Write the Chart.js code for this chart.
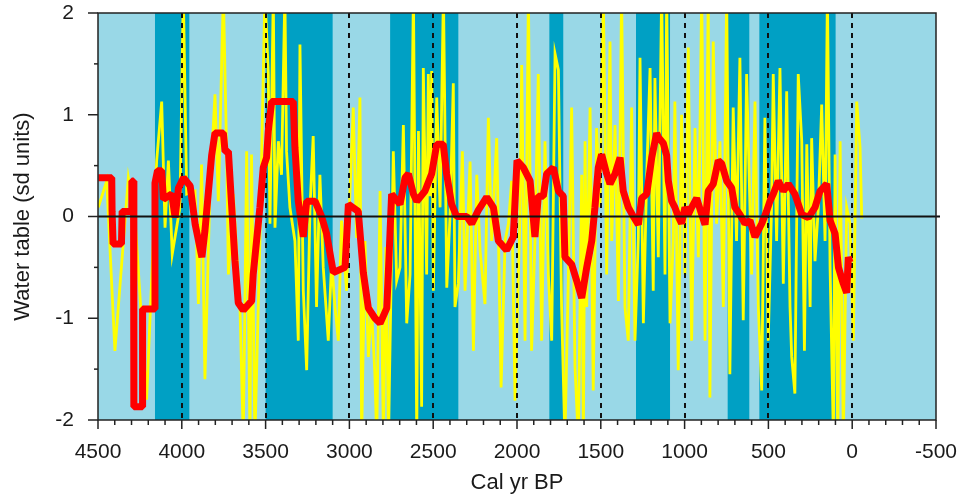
<!DOCTYPE html>
<html>
<head>
<meta charset="utf-8">
<script src="https://cdn.jsdelivr.net/npm/chart.js@4/dist/chart.umd.min.js"></script>
<style>
  html, body { margin: 0; padding: 0; background: #fff; }
  #wrap { width: 957px; height: 497px; }
</style>
</head>
<body>
<div id="wrap"><canvas id="waterChart" width="957" height="497"></canvas></div>
<script>
"use strict";

// x ticks (cal yr BP) and y ticks
var xTicks = [4500, 4000, 3500, 3000, 2500, 2000, 1500, 1000, 500, 0, -500];
var yTicks = [-2, -1, 0, 1, 2];
var dashedYears = [4000, 3500, 3000, 2500, 2000, 1500, 1000, 500, 0];

// wetter phases (dark bands), start / end in cal yr BP
var bandStart = [4160, 3500, 2757, 1807, 1290, 743, 554];
var bandEnd   = [3955, 3100, 2350, 1724, 1087, 614, 99];

// individual reconstruction (yellow)
var yellowYears = [4498,4448,4399,4319,4279,4210,4150,4120,4100,4080,4057,4011,3991,3971,3921,3901,3882,3862,3832,3802,3782,3752,3732,3722,3693,
  3653,3633,3613,3593,3584,3564,3534,3504,3484,3474,3454,3444,3424,3405,3385,3375,3355,3325,3305,3295,3275,3255,3235,3216,3196,3176,3156,3126,3106,3086,3066,3047,3017,2997,2977,2957,2937,2927,2907,2887,2868,2848,
  2837,2817,2797,2782,2767,2738,2718,2698,2678,2658,2638,2618,2598,2588,2569,2559,2539,2529,2519,2509,2499,2479,2459,2439,2419,2400,2380,2370,2350,2326,2310,2280,2260,2240,2220,2191,2171,2151,2121,2095,2071,2051,2032,2012,
  1982,1972,1952,1932,1913,1893,1873,1853,1833,1813,1793,1773,1753,1734,1714,1694,1674,1654,1634,1614,1604,1594,1584,1564,1545,1525,1505,1485,1465,1445,1435,1415,1395,1376,1356,1336,1316,1296,1276,1266,1246,1226,1206,1187,
  1177,1157,1137,1117,1107,1087,1068,1058,1038,1018,998,978,958,938,918,898,878,859,849,829,809,789,769,749,730,710,690,670,650,630,600,580,560,540,521,501,481,471,451,431,411,391,371,361,342,322,
  301,285,271,251,242,222,202,182,162,148,132,112,102,86,72,53,33,13,-7,-27,-47,-57];
var yellowValues = [0.09,0.35,-1.32,0.38,-0.02,-1.8,0.55,1.13,-0.11,0.55,-0.37,0.09,2.2,0.22,0.25,-0.86,0.51,-1.6,0.25,1.2,0.15,2.2,0.58,-0.57,0.22,
  -0.89,-2.2,0.64,-2.2,0.61,-2.2,-0.24,2.2,1.4,-0.07,2.2,-0.11,0.74,0.41,2.2,0.64,0.09,-0.24,-1.22,1.69,-0.73,-1.51,0.09,0.79,-0.89,0.41,-0.5,-1.22,-0.44,-0.89,-1.22,-0.04,-0.73,0.22,1.07,-0.21,1.17,-2.2,-0.24,-1.38,-0.89,-1.55,
  -2.2,0.25,-2.2,-0.3,-2.2,0.64,-0.63,-0.5,0.9,-1.05,-0.57,2.2,-2.2,0.84,-1.87,1.46,-0.57,1.4,0.2,1.43,-0.73,1.17,0.09,2.2,-0.7,-0.01,1.31,-0.89,-0.66,0.64,-0.73,0.54,-1.32,0.41,-0.34,-0.86,0.97,-0.24,0.77,-1.68,-0.24,-0.07,0.35,-1.81,
  0.02,1.49,-1.22,2.2,-1.32,-0.24,1.4,-1.22,0.74,-0.57,-1.22,1.6,1.44,-0.89,-2.2,-0.63,1.07,-1.48,-2.2,0.41,-2.2,0.74,-0.89,1.07,-1.71,0.87,0.09,2.2,-0.57,1.72,-0.24,0.9,-0.83,2.2,-0.89,-1.22,1.07,-1.22,-0.2,1.56,-1.05,0.41,1.46,-0.73,
  1.36,-0.4,2.2,-0.57,2.2,-1.05,-0.24,1.13,-1.51,1.0,-0.57,1.66,-1.22,0.87,-0.4,2.2,-1.22,2.2,-1.78,1.72,-0.07,0.74,-0.89,2.2,-1.55,1.07,-0.24,1.56,-1.02,1.4,-0.57,1.13,-0.89,-1.71,0.97,-1.22,0.09,1.4,-0.24,1.46,-0.66,1.23,-0.89,-1.38,-1.74,1.4,
  0.74,-1.32,0.71,-0.89,0.77,-0.44,0.09,1.1,-0.24,2.2,-0.5,-2.2,0.61,-2.2,0.74,-2.2,0.09,-0.07,-1.22,1.13,0.68,-0.02];

// smoothed record (red)
var redYears = [4498,4418,4416,4410,4360,4356,4300,4298,4288,4286,4236,4234,4162,4160,4145,4120,4110,4060,4040,4020,3990,3950,3920,3880,3862,3822,3802,3752,3742,3722,3702,
  3683,3663,3633,3583,3574,3554,3534,3514,3494,3484,3464,3335,3325,3305,3275,3255,3205,3166,3136,3096,3026,3006,2947,2917,2887,2847,
  2817,2777,2767,2748,2698,2668,2648,2618,2598,2549,2509,2479,2440,2420,2390,2360,2300,2270,2231,2181,2141,2111,2062,2022,
  2000,1962,1922,1893,1873,1843,1823,1783,1753,1724,1714,1674,1644,1614,1584,1554,1535,1515,1495,1465,1445,1415,1385,1366,1336,1306,1276,1256,1226,1196,1167,
  1157,1127,1107,1097,1077,1058,1038,1018,998,978,958,928,898,878,859,829,799,779,749,719,700,670,640,610,580,540,511,491,471,441,411,381,342,
  301,261,222,192,152,132,102,82,53,33,23,13];
var redValues = [0.38,0.38,0.05,-0.27,-0.27,0.05,0.05,0.35,0.35,-1.87,-1.87,-0.91,-0.91,0.33,0.45,0.45,0.17,0.22,-0.01,0.28,0.38,0.3,-0.08,-0.4,-0.14,0.6,0.82,0.82,0.64,0.64,0.09,
  -0.43,-0.85,-0.92,-0.83,-0.57,-0.24,0.09,0.48,0.58,0.84,1.13,1.13,0.68,0.15,-0.2,0.15,0.15,0,-0.17,-0.55,-0.5,0.12,0.05,-0.55,-0.9,-1.0,
  -1.05,-0.9,-0.53,0.22,0.12,0.38,0.42,0.22,0.15,0.25,0.42,0.71,0.71,0.42,0.12,0,0,-0.07,0.06,0.19,0.09,-0.24,-0.33,-0.2,
  0.55,0.48,0.35,-0.2,0.2,0.2,0.42,0.48,0.25,0.2,-0.4,-0.47,-0.63,-0.8,-0.5,-0.24,0.09,0.48,0.61,0.42,0.32,0.42,0.58,0.25,0.09,0,-0.08,0.18,0.22,0.58,0.82,
  0.78,0.72,0.6,0.35,0.15,0.09,0,-0.07,0.09,0.02,0.09,0.18,0.02,-0.08,0.25,0.32,0.55,0.52,0.35,0.28,0.09,0.02,-0.07,-0.04,-0.2,-0.07,0.05,0.15,0.22,0.35,0.25,0.32,0.22,
  0.02,-0.01,0.09,0.25,0.32,-0.04,-0.17,-0.5,-0.66,-0.75,-0.4,-0.45];

function toPoints(xs, ys) {
  return xs.map(function (x, i) { return { x: x, y: ys[i] }; });
}

var LIGHT = "#99d8e7";
var DARK = "#00a0c4";
var FONT = "'Liberation Sans', Arial, sans-serif";

// background, bands, dashed lines, zero line, frame, ticks
var decor = {
  id: "decor",
  beforeDatasetsDraw: function (chart) {
    var ctx = chart.ctx, a = chart.chartArea, xs = chart.scales.x;
    ctx.save();
    ctx.fillStyle = LIGHT;
    ctx.fillRect(a.left, a.top, a.right - a.left, a.bottom - a.top);
    ctx.fillStyle = DARK;
    for (var i = 0; i < bandStart.length; i++) {
      var x1 = xs.getPixelForValue(bandStart[i]);
      var x2 = xs.getPixelForValue(bandEnd[i]);
      ctx.fillRect(x1, a.top, x2 - x1, a.bottom - a.top);
    }
    ctx.restore();
  },
  afterDatasetDraw: function (chart, args) {
    if (args.index !== 1) return;
    var ctx = chart.ctx, a = chart.chartArea, xs = chart.scales.x;
    ctx.save();
    ctx.strokeStyle = "#111";
    ctx.lineWidth = 2;
    ctx.setLineDash([5, 5]);
    dashedYears.forEach(function (yr) {
      var px = Math.round(xs.getPixelForValue(yr));
      ctx.beginPath();
      ctx.moveTo(px, a.top);
      ctx.lineTo(px, a.bottom);
      ctx.stroke();
    });
    ctx.restore();
  },
  afterDatasetsDraw: function (chart) {
    var ctx = chart.ctx, a = chart.chartArea, xs = chart.scales.x, ys = chart.scales.y;
    ctx.save();
    // zero line
    var y0 = ys.getPixelForValue(0);
    ctx.strokeStyle = "#111";
    ctx.lineWidth = 2;
    ctx.beginPath();
    ctx.moveTo(a.left, y0);
    ctx.lineTo(a.right + 4, y0);
    ctx.stroke();
    // frame
    ctx.strokeStyle = "#222";
    ctx.lineWidth = 1.5;
    ctx.strokeRect(a.left, a.top, a.right - a.left, a.bottom - a.top);
    // y ticks (major every 1, minor every 0.5)
    for (var v = -2; v <= 2.001; v += 0.5) {
      var py = ys.getPixelForValue(v);
      var len = Math.abs(v - Math.round(v)) < 0.01 ? 10 : 4;
      ctx.beginPath();
      ctx.moveTo(a.left - len, py);
      ctx.lineTo(a.left, py);
      ctx.stroke();
    }
    // x ticks (major every 500, minor every 100)
    for (var yr = 4500; yr >= -500; yr -= 100) {
      var px = xs.getPixelForValue(yr);
      var l = yr % 500 === 0 ? 9 : 5;
      ctx.beginPath();
      ctx.moveTo(px, a.bottom);
      ctx.lineTo(px, a.bottom + l);
      ctx.stroke();
    }
    ctx.restore();
  }
};

var ctx = document.getElementById("waterChart");
var chart = new Chart(ctx, {
  type: "line",
  data: {
    datasets: [
      {
        label: "Smoothed",
        data: toPoints(redYears, redValues),
        borderColor: "#ff0000",
        borderWidth: 7,
        borderJoinStyle: "bevel",
        pointRadius: 0,
        tension: 0,
        clip: 0
      },
      {
        label: "Water table",
        data: toPoints(yellowYears, yellowValues),
        borderColor: "#ffff00",
        borderWidth: 2.8,
        pointRadius: 0,
        tension: 0,
        clip: 0
      }
    ]
  },
  options: {
    responsive: false,
    animation: false,
    events: [],
    layout: { padding: { left: 0, right: 21, top: 13, bottom: 0 } },
    plugins: {
      legend: { display: false },
      tooltip: { enabled: false }
    },
    scales: {
      x: {
        type: "linear",
        reverse: true,
        min: -500,
        max: 4500,
        afterBuildTicks: function (scale) {
          scale.ticks = xTicks.map(function (v) { return { value: v }; });
        },
        afterFit: function (scale) {
          scale.height = 77;
          scale.paddingLeft = 0;
          scale.paddingRight = 0;
        },
        grid: { display: false },
        border: { display: false },
        ticks: {
          color: "#1a1a1a",
          font: { family: FONT, size: 21 },
          padding: 12,
          maxRotation: 0,
          autoSkip: false,
          callback: function (v) { return String(v); }
        },
        title: {
          display: true,
          text: "Cal yr BP",
          color: "#1a1a1a",
          font: { family: FONT, size: 22 },
          padding: { top: 0, bottom: 1 }
        }
      },
      y: {
        min: -2,
        max: 2,
        afterBuildTicks: function (scale) {
          scale.ticks = yTicks.map(function (v) { return { value: v }; });
        },
        afterFit: function (scale) {
          scale.width = 98;
          scale.paddingTop = 0;
          scale.paddingBottom = 0;
        },
        grid: { display: false },
        border: { display: false },
        ticks: {
          color: "#1a1a1a",
          font: { family: FONT, size: 21 },
          padding: 16,
          callback: function (v) { return String(v); }
        },
        title: {
          display: true,
          text: "Water table (sd units)",
          color: "#1a1a1a",
          font: { family: FONT, size: 22 },
          padding: { top: 10, bottom: 0 }
        }
      }
    }
  },
  plugins: [decor]
});
</script>
</body>
</html>
